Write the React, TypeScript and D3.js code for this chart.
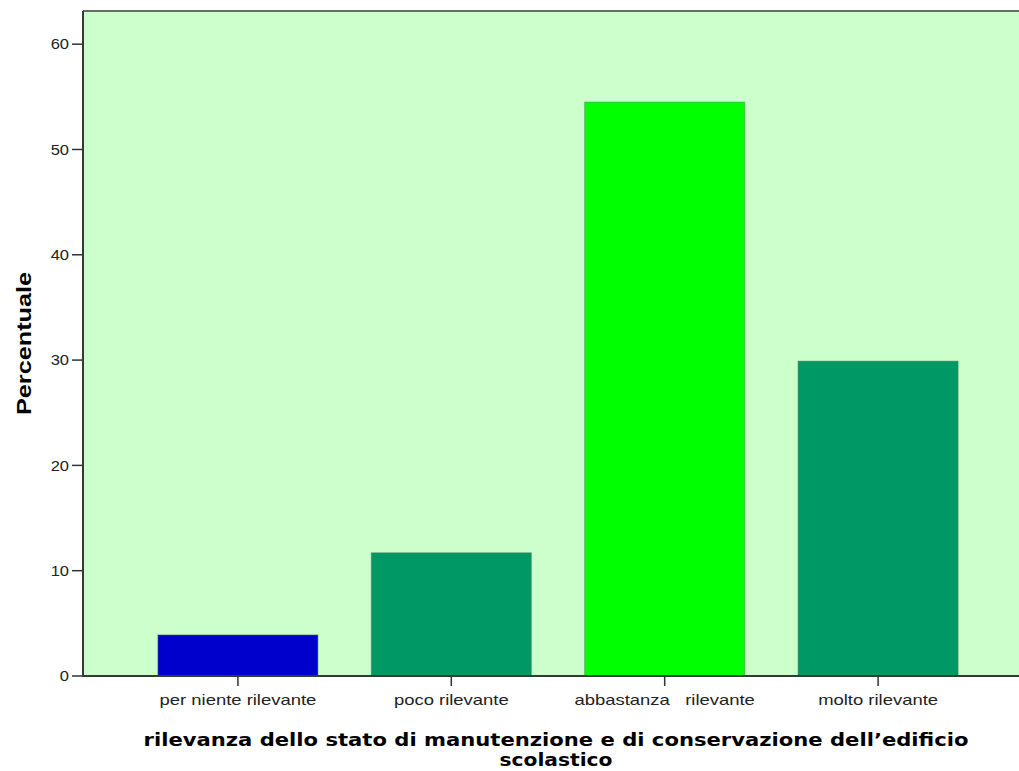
import React from 'react';
import * as d3 from 'd3';

const categories = ['per niente rilevante', 'poco rilevante', 'abbastanza   rilevante', 'molto rilevante'];
const percentages = [3.9, 11.7, 54.5, 29.9];
const barColors = ['#0000cc', '#009966', '#00ff00', '#009966'];
const yTicks = [0, 10, 20, 30, 40, 50, 60];
const xTitleLines = ['rilevanza dello stato di manutenzione e di conservazione dell\u2019edificio', 'scolastico'];
const yTitle = 'Percentuale';

const App: React.FC = () => {
  const width = 1019;
  const height = 771;
  const plot = { left: 83, right: 1033, top: 11, bottom: 676 };

  const x = d3
    .scaleBand<string>()
    .domain(categories)
    .range([plot.left, plot.right])
    .paddingInner(0.25)
    .paddingOuter(0.351);

  const y = d3.scaleLinear().domain([0, 63.15]).range([plot.bottom, plot.top]);

  const font = 'Arial, "Liberation Sans", sans-serif';
  const titleFont = '"DejaVu Sans", sans-serif';
  const titleX = 556;

  return (
    <svg
      width={width}
      height={height}
      style={{ position: 'absolute', left: 0, top: 0, background: '#fff' }}
    >
      <rect
        x={plot.left}
        y={plot.top}
        width={plot.right - plot.left}
        height={plot.bottom - plot.top}
        fill="#ccffcc"
      />
      <line x1={plot.left} x2={plot.right} y1={plot.top} y2={plot.top} stroke="#5f6f5f" strokeWidth={2} />

      {categories.map((c, i) => (
        <rect
          key={c}
          x={x(c)!}
          y={y(percentages[i])}
          width={x.bandwidth()}
          height={y(0) - y(percentages[i])}
          fill={barColors[i]}
          stroke="#4a7a5a"
          strokeOpacity={0.5}
          strokeWidth={1}
        />
      ))}

      {/* y axis */}
      <line x1={plot.left} x2={plot.left} y1={plot.top} y2={plot.bottom} stroke="#2f3f2f" strokeWidth={2} />
      {yTicks.map(t => (
        <g key={t}>
          <line x1={plot.left - 11} x2={plot.left} y1={y(t)} y2={y(t)} stroke="#333" strokeWidth={1.5} />
          <text
            transform={`translate(${plot.left - 14},${y(t)}) scale(1.1,1)`}
            dy="0.35em"
            textAnchor="end"
            fontFamily={font}
            fontSize={15}
            fill="#222"
          >
            {t}
          </text>
        </g>
      ))}

      {/* x axis */}
      <line x1={plot.left - 1} x2={plot.right} y1={plot.bottom} y2={plot.bottom} stroke="#2f3f2f" strokeWidth={2} />
      {categories.map(c => {
        const cx = x(c)! + x.bandwidth() / 2;
        return (
          <g key={c}>
            <line x1={cx} x2={cx} y1={plot.bottom} y2={plot.bottom + 10} stroke="#333" strokeWidth={1.5} />
            <text
              transform={`translate(${cx},${plot.bottom + 29}) scale(1.23,1)`}
              textAnchor="middle"
              fontFamily={font}
              fontSize={15}
              fill="#222"
              style={{ whiteSpace: 'pre' }}
            >
              {c}
            </text>
          </g>
        );
      })}

      {/* axis titles */}
      <text
        x={titleX}
        y={746}
        textAnchor="middle"
        fontFamily={titleFont}
        fontWeight="bold"
        fontSize={18}
        textLength={825}
        lengthAdjust="spacingAndGlyphs"
        fill="#000"
      >
        {xTitleLines[0]}
      </text>
      <text
        x={titleX}
        y={766}
        textAnchor="middle"
        fontFamily={titleFont}
        fontWeight="bold"
        fontSize={18}
        textLength={113}
        lengthAdjust="spacingAndGlyphs"
        fill="#000"
      >
        {xTitleLines[1]}
      </text>
      <text
        transform={`translate(31,${(plot.top + plot.bottom) / 2}) rotate(-90)`}
        textAnchor="middle"
        fontFamily={font}
        fontWeight="bold"
        fontSize={21}
        textLength={143}
        lengthAdjust="spacingAndGlyphs"
        fill="#000"
      >
        {yTitle}
      </text>
    </svg>
  );
};

export default App;
